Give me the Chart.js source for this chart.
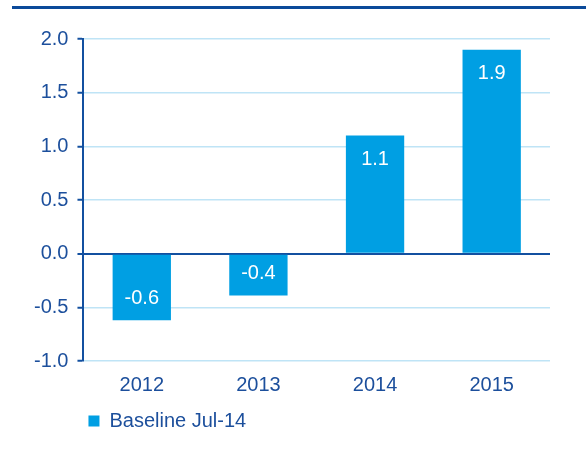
<!DOCTYPE html>
<html>
<head>
<meta charset="utf-8">
<script src="https://cdn.jsdelivr.net/npm/chart.js@4"></script>
<style>
	html, body { margin: 0; padding: 0; background: #fff; }
	#wrap { position: relative; width: 586px; height: 476px; }
	#rule { position: absolute; left: 12px; top: 6px; width: 574px; height: 3px; background: #0b4a9a; }
	#chart { position: absolute; left: 0; top: 0; }
</style>
</head>
<body>
<div id="wrap">
	<div id="rule"></div>
	<canvas id="chart" width="586" height="476"></canvas>
</div>
<script>
const years = ["2012", "2013", "2014", "2015"]
const baseline = [-0.62, -0.39, 1.1, 1.9]
const seriesName = "Baseline Jul-14"

const colors = {
	bar: '#009fe3',
	text: '#1c4f9c',
	axis: '#1350a0',
	grid: '#bfe4f6'
}

Chart.defaults.font.family = "'Liberation Sans', Arial, sans-serif"
Chart.defaults.font.size = 20
Chart.defaults.color = colors.text

// white value labels inside the end of each bar
const barLabels = {
	id: 'barLabels',
	afterDatasetsDraw(chart) {
		const ctx = chart.ctx
		const meta = chart.getDatasetMeta(0)
		ctx.save()
		ctx.fillStyle = '#fff'
		ctx.font = "20px 'Liberation Sans', Arial, sans-serif"
		ctx.textAlign = 'center'
		ctx.textBaseline = 'middle'
		meta.data.forEach((bar, i) => {
			const v = baseline[i]
			const y = v >= 0 ? bar.y + 24 : bar.y - 22
			ctx.fillText(v.toFixed(1), bar.x, y)
		})
		ctx.restore()
	}
}

const chart = new Chart("chart", {
	type: "bar",
	data: {
		labels: years,
		datasets: [
			{
				label: seriesName,
				data: baseline,
				backgroundColor: colors.bar,
				barPercentage: 0.5,
				categoryPercentage: 1.0
			}
		]
	},
	options: {
		responsive: false,
		animation: false,
		layout: { padding: { left: 25, right: 36, top: 39, bottom: 35 } },
		plugins: {
			legend: {
				position: 'bottom',
				align: 'start',
				fullSize: false,
				labels: {
					boxWidth: 11,
					boxHeight: 11,
					padding: 5,
					font: { size: 20 }
				}
			},
			tooltip: { enabled: false }
		},
		scales: {
			x: {
				grid: { display: false },
				border: { display: false },
				ticks: { padding: 4 },
				// a little extra room between year labels and legend
				afterFit: (scale) => { scale.height += 5 }
			},
			y: {
				min: -1,
				max: 2,
				ticks: {
					stepSize: 0.5,
					padding: 9,
					callback: (v) => v.toFixed(1)
				},
				border: { color: colors.axis, width: 2 },
				grid: {
					color: (c) => c.tick && c.tick.value === 0 ? colors.axis : colors.grid,
					lineWidth: (c) => c.tick && c.tick.value === 0 ? 2 : 1.5,
					tickColor: colors.axis,
					tickLength: 6,
					tickWidth: 2
				}
			}
		}
	},
	plugins: [barLabels]
})
</script>
</body>
</html>
